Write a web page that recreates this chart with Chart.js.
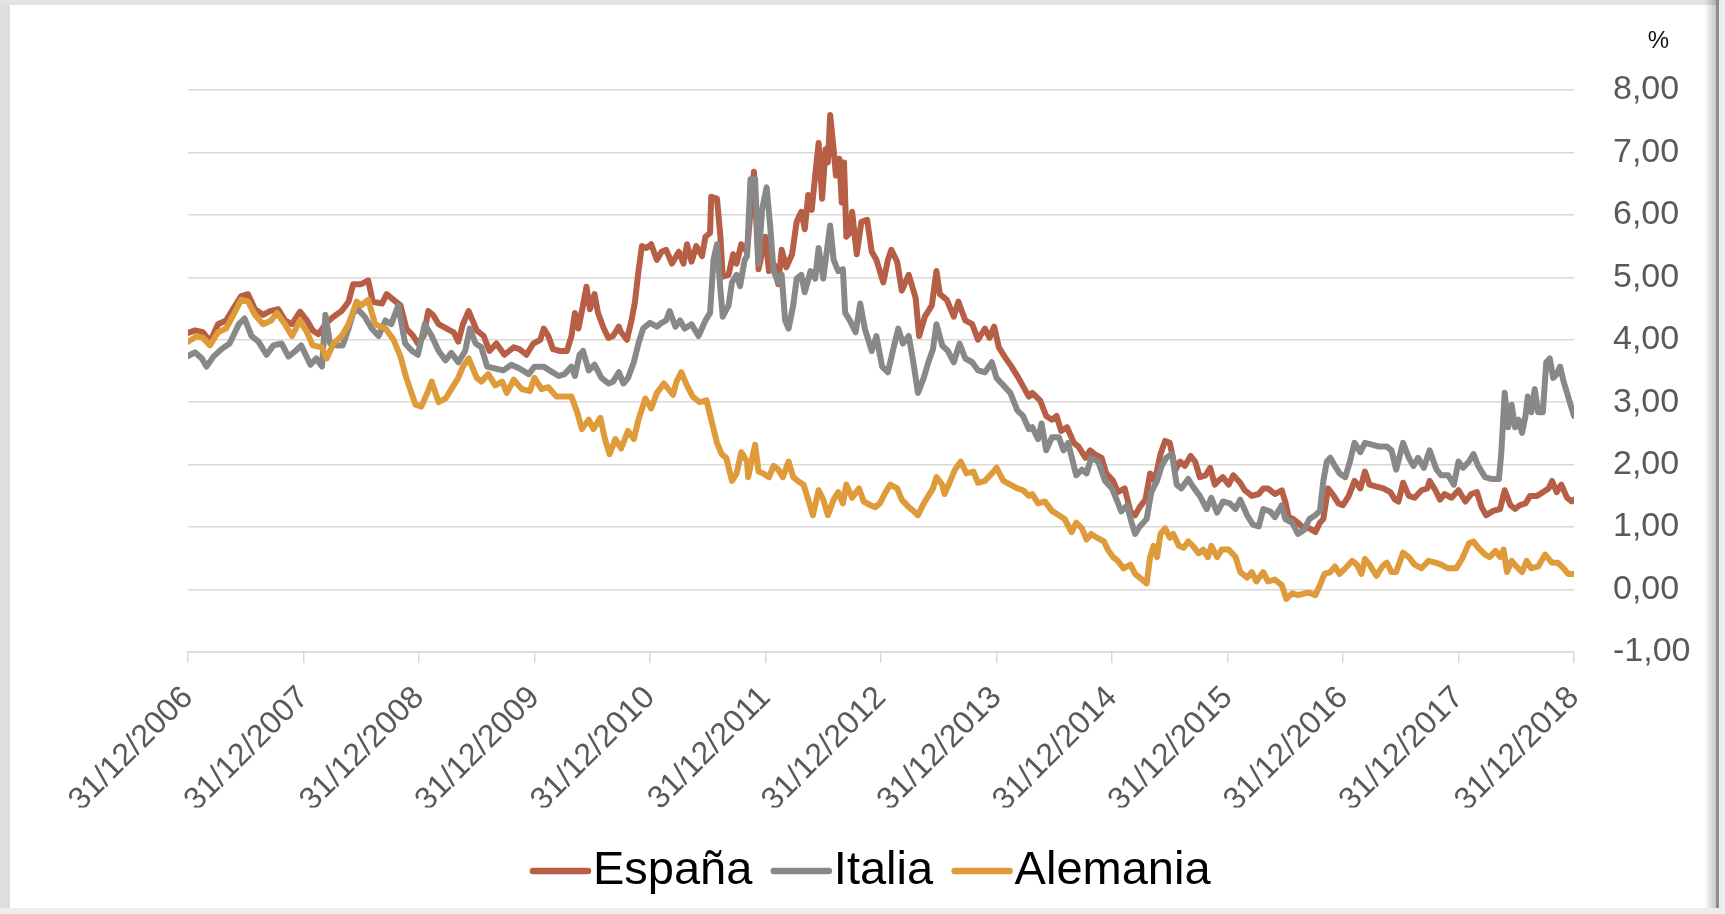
<!DOCTYPE html>
<html>
<head>
<meta charset="utf-8">
<script src="https://cdn.jsdelivr.net/npm/chart.js@4.4.1/dist/chart.umd.min.js"></script>
<style>
html,body{margin:0;padding:0;background:#fff;width:1725px;height:914px;overflow:hidden;}
#wrap{position:absolute;left:0;top:0;width:1725px;height:914px;background:#fff;}
#c{position:absolute;left:0;top:0;}
.f{position:absolute;pointer-events:none;}
</style>
</head>
<body>
<div id="wrap">
<canvas id="c" width="1725" height="914"></canvas>
<div class="f" style="left:0;top:0;width:10px;height:914px;background:#dedede"></div>
<div class="f" style="left:0;top:0;width:1725px;height:5px;background:#e3e3e3"></div>
<div class="f" style="left:1704px;top:0;width:12px;height:914px;background:linear-gradient(to right,rgba(0,0,0,0),rgba(0,0,0,0.22))"></div>
<div class="f" style="left:1716px;top:0;width:3px;height:914px;background:#8c8c8c"></div>
<div class="f" style="left:1719px;top:0;width:6px;height:914px;background:#ececec"></div>
<div class="f" style="left:0;top:908px;width:1725px;height:6px;background:#ededed"></div>
</div>
<script>
// Fecha (año decimal, 2007.00 = 31/12/2006) y rendimiento (%)
const espana = [[2007.00,4.11],[2007.06,4.15],[2007.13,4.12],[2007.19,3.97],[2007.26,4.25],[2007.33,4.31],[2007.41,4.55],[2007.46,4.70],[2007.52,4.73],[2007.58,4.49],[2007.65,4.40],[2007.71,4.46],[2007.78,4.49],[2007.84,4.31],[2007.90,4.25],[2007.97,4.45],[2008.03,4.31],[2008.08,4.15],[2008.13,4.09],[2008.19,4.25],[2008.26,4.37],[2008.33,4.46],[2008.39,4.61],[2008.43,4.89],[2008.50,4.89],[2008.56,4.95],[2008.60,4.61],[2008.68,4.58],[2008.72,4.73],[2008.78,4.64],[2008.84,4.55],[2008.89,4.18],[2008.95,4.06],[2008.99,3.94],[2009.04,4.06],[2009.08,4.46],[2009.12,4.40],[2009.17,4.25],[2009.24,4.18],[2009.30,4.12],[2009.34,3.97],[2009.38,4.25],[2009.43,4.46],
[2009.50,4.15],[2009.56,4.06],[2009.61,3.82],[2009.67,3.94],[2009.74,3.76],[2009.82,3.88],[2009.87,3.85],[2009.93,3.76],[2009.99,3.94],[2010.05,4.00],[2010.08,4.18],[2010.12,4.06],[2010.16,3.85],[2010.22,3.82],[2010.28,3.82],[2010.32,4.06],[2010.35,4.43],[2010.38,4.18],[2010.42,4.55],[2010.45,4.85],[2010.48,4.49],[2010.52,4.73],[2010.55,4.43],[2010.60,4.18],[2010.64,4.03],[2010.68,4.06],[2010.73,4.21],[2010.75,4.12],[2010.80,4.00],[2010.84,4.31],[2010.87,4.61],[2010.90,5.10],[2010.93,5.50],[2010.97,5.47],[2011.01,5.53],[2011.06,5.28],[2011.10,5.41],[2011.14,5.44],[2011.19,5.22],[2011.25,5.41],[2011.29,5.22],[2011.32,5.53],[2011.36,5.25],[2011.40,5.50],[2011.45,5.34],[2011.48,5.65],[2011.52,5.71],[2011.53,6.29],[2011.58,6.26],[2011.61,5.65],[2011.63,5.01],[2011.68,5.04],[2011.72,5.37],[2011.75,5.22],[2011.79,5.53],
[2011.84,5.41],[2011.90,6.69],[2011.94,5.13],[2012.00,5.65],[2012.03,5.10],[2012.08,5.19],[2012.11,4.89],[2012.14,5.44],[2012.18,5.16],[2012.23,5.37],[2012.27,5.89],[2012.31,6.05],[2012.34,5.77],[2012.37,6.32],[2012.40,6.08],[2012.43,6.63],[2012.46,7.15],[2012.49,6.26],[2012.52,7.05],[2012.54,6.84],[2012.56,7.60],[2012.59,7.05],[2012.61,6.63],[2012.64,6.90],[2012.66,6.20],[2012.68,6.84],[2012.70,5.65],[2012.73,5.71],[2012.75,6.05],[2012.79,5.37],[2012.83,5.89],[2012.88,5.92],[2012.92,5.41],[2012.96,5.28],[2013.02,4.92],[2013.06,5.28],[2013.09,5.44],[2013.14,5.25],[2013.18,4.79],[2013.24,5.04],[2013.30,4.67],[2013.33,4.06],[2013.38,4.37],[2013.44,4.55],[2013.48,5.10],[2013.51,4.73],[2013.57,4.64],[2013.63,4.37],[2013.67,4.61],[2013.73,4.31],[2013.79,4.25],[2013.84,4.00],[2013.90,4.18],[2013.94,4.03],[2013.98,4.21],[2014.02,3.88],[2014.07,3.73],[2014.13,3.57],[2014.19,3.39],[2014.28,3.09],
[2014.31,3.15],[2014.38,3.02],[2014.43,2.78],[2014.48,2.72],[2014.52,2.78],[2014.56,2.54],[2014.61,2.60],[2014.67,2.35],[2014.71,2.29],[2014.77,2.11],[2014.81,2.23],[2014.85,2.17],[2014.91,2.11],[2014.95,1.86],[2015.01,1.74],[2015.05,1.56],[2015.11,1.62],[2015.16,1.25],[2015.20,1.19],[2015.24,1.32],[2015.29,1.44],[2015.33,1.86],[2015.37,1.74],[2015.42,2.17],[2015.46,2.38],[2015.50,2.35],[2015.55,1.92],[2015.59,2.05],[2015.63,1.98],[2015.68,2.14],[2015.72,2.05],[2015.76,1.80],[2015.81,1.83],[2015.85,1.95],[2015.89,1.68],[2015.92,1.74],[2015.96,1.80],[2016.01,1.68],[2016.05,1.83],[2016.11,1.71],[2016.15,1.59],[2016.21,1.50],[2016.27,1.53],[2016.31,1.62],[2016.35,1.62],[2016.41,1.53],[2016.47,1.59],[2016.50,1.41],[2016.53,1.16],[2016.57,1.13],[2016.61,1.07],[2016.66,0.98],
[2016.71,0.98],[2016.76,0.92],[2016.80,1.07],[2016.83,1.13],[2016.87,1.62],[2016.92,1.50],[2016.96,1.38],[2017.00,1.35],[2017.05,1.50],[2017.10,1.74],[2017.15,1.62],[2017.19,1.89],[2017.23,1.68],[2017.29,1.65],[2017.35,1.62],[2017.41,1.56],[2017.45,1.44],[2017.48,1.41],[2017.52,1.71],[2017.57,1.50],[2017.62,1.47],[2017.68,1.59],[2017.73,1.62],[2017.75,1.74],[2017.80,1.59],[2017.84,1.44],[2017.88,1.53],[2017.94,1.47],[2018.00,1.59],[2018.06,1.41],[2018.11,1.53],[2018.16,1.56],[2018.20,1.32],[2018.24,1.19],[2018.30,1.26],[2018.36,1.29],[2018.40,1.59],[2018.45,1.35],[2018.49,1.29],[2018.53,1.35],[2018.58,1.38],[2018.62,1.50],[2018.68,1.50],[2018.73,1.56],[2018.78,1.62],[2018.81,1.74],[2018.85,1.56],[2018.89,1.68],[2018.94,1.47],[2018.98,1.41],[2019.00,1.44]];

const italia = [[2007.00,3.74],[2007.06,3.80],[2007.12,3.70],[2007.16,3.57],[2007.22,3.73],[2007.29,3.85],[2007.36,3.94],[2007.44,4.25],[2007.49,4.34],[2007.55,4.06],[2007.61,3.97],[2007.68,3.76],[2007.74,3.91],[2007.81,3.94],[2007.87,3.73],[2007.93,3.82],[2007.98,3.91],[2008.06,3.60],[2008.11,3.70],[2008.16,3.57],[2008.19,4.40],[2008.23,3.94],[2008.29,3.91],[2008.34,3.91],[2008.39,4.18],[2008.43,4.43],[2008.47,4.49],[2008.53,4.37],[2008.59,4.18],[2008.65,4.06],[2008.71,4.31],[2008.76,4.25],[2008.82,4.55],[2008.88,3.94],[2008.94,3.82],[2008.99,3.76],[2009.05,4.25],[2009.11,4.06],[2009.17,3.82],[2009.23,3.67],[2009.28,3.79],[2009.34,3.64],[2009.40,3.82],
[2009.44,4.18],[2009.49,3.94],[2009.54,3.88],[2009.59,3.57],[2009.66,3.54],[2009.73,3.51],[2009.80,3.60],[2009.87,3.54],[2009.95,3.45],[2010.00,3.57],[2010.08,3.57],[2010.13,3.51],[2010.21,3.42],[2010.26,3.45],[2010.32,3.57],[2010.35,3.42],[2010.39,3.76],[2010.42,3.82],[2010.47,3.51],[2010.52,3.60],[2010.58,3.39],[2010.64,3.30],[2010.68,3.33],[2010.73,3.48],[2010.77,3.30],[2010.81,3.39],[2010.86,3.64],[2010.90,3.94],[2010.94,4.18],[2011.00,4.27],[2011.06,4.21],[2011.10,4.27],[2011.14,4.31],[2011.17,4.46],[2011.22,4.21],[2011.26,4.31],[2011.30,4.18],[2011.36,4.25],[2011.42,4.06],[2011.48,4.31],[2011.52,4.43],[2011.55,5.28],[2011.58,5.53],[2011.61,4.79],[2011.63,4.37],[2011.68,4.55],[2011.71,4.92],[2011.75,5.04],[2011.78,4.86],[2011.82,5.28],
[2011.84,5.34],[2011.87,6.57],[2011.91,6.57],[2011.94,5.22],[2011.97,6.08],[2012.01,6.44],[2012.04,5.83],[2012.07,5.10],[2012.11,4.92],[2012.14,5.04],[2012.17,4.31],[2012.20,4.18],[2012.24,4.55],[2012.27,4.98],[2012.31,5.04],[2012.34,4.76],[2012.39,5.10],[2012.43,4.98],[2012.46,5.47],[2012.50,4.98],[2012.53,5.41],[2012.56,5.83],[2012.59,5.28],[2012.63,5.10],[2012.67,5.13],[2012.69,4.43],[2012.73,4.31],[2012.78,4.12],[2012.82,4.58],[2012.86,4.18],[2012.92,3.82],[2012.96,4.06],[2013.01,3.57],[2013.06,3.48],[2013.11,3.88],[2013.15,4.18],[2013.19,3.94],[2013.24,4.06],[2013.28,3.64],[2013.32,3.15],[2013.37,3.39],[2013.41,3.64],[2013.45,3.85],[2013.48,4.25],[2013.53,3.91],[2013.58,3.82],[2013.63,3.64],[2013.68,3.94],[2013.73,3.70],[2013.79,3.64],[2013.84,3.51],[2013.90,3.48],[2013.96,3.64],[2014.00,3.39],[2014.06,3.27],[2014.12,3.15],[2014.18,2.87],[2014.23,2.78],[2014.28,2.57],
[2014.31,2.60],[2014.36,2.41],[2014.39,2.66],[2014.43,2.23],[2014.48,2.44],[2014.54,2.44],[2014.58,2.23],[2014.62,2.35],[2014.67,1.98],[2014.69,1.83],[2014.74,1.92],[2014.78,1.86],[2014.82,2.11],[2014.88,2.05],[2014.94,1.74],[2015.00,1.62],[2015.04,1.44],[2015.08,1.25],[2015.13,1.35],[2015.17,1.07],[2015.20,0.89],[2015.24,1.01],[2015.30,1.13],[2015.34,1.56],[2015.39,1.74],[2015.43,1.98],[2015.47,2.11],[2015.52,2.17],[2015.56,1.68],[2015.60,1.62],[2015.66,1.77],[2015.70,1.65],[2015.76,1.50],[2015.82,1.29],[2015.86,1.47],[2015.91,1.23],[2015.96,1.41],[2016.02,1.38],[2016.07,1.29],[2016.11,1.44],[2016.17,1.19],[2016.22,1.04],[2016.27,1.01],[2016.31,1.29],[2016.37,1.25],[2016.41,1.16],[2016.47,1.35],[2016.50,1.13],[2016.56,1.07],[2016.61,0.89],[2016.66,0.95],
[2016.71,1.13],[2016.76,1.19],[2016.80,1.26],[2016.83,1.74],[2016.86,2.05],[2016.89,2.11],[2016.93,1.98],[2016.97,1.86],[2017.02,1.80],[2017.06,2.05],[2017.10,2.35],[2017.15,2.20],[2017.19,2.35],[2017.25,2.32],[2017.31,2.29],[2017.38,2.29],[2017.42,2.23],[2017.46,1.92],[2017.52,2.35],[2017.57,2.11],[2017.61,1.98],[2017.65,2.11],[2017.70,1.95],[2017.75,2.23],[2017.81,1.92],[2017.85,1.83],[2017.91,1.83],[2017.96,1.68],[2018.00,2.05],[2018.04,1.95],[2018.09,2.05],[2018.13,2.17],[2018.17,1.98],[2018.23,1.80],[2018.29,1.77],[2018.35,1.77],[2018.37,2.17],[2018.40,3.15],[2018.43,2.60],[2018.46,2.96],[2018.49,2.60],[2018.52,2.72],[2018.55,2.51],[2018.58,2.78],[2018.60,3.09],[2018.63,2.84],[2018.66,3.21],[2018.69,2.84],[2018.73,2.84],[2018.76,3.64],[2018.79,3.70],[2018.82,3.39],[2018.85,3.45],[2018.88,3.57],[2018.91,3.33],[2018.94,3.15],[2018.97,2.96],[2019.00,2.78]];

const alemania = [[2007.00,3.97],[2007.08,4.06],[2007.13,4.03],[2007.19,3.91],[2007.26,4.12],[2007.33,4.18],[2007.41,4.46],[2007.46,4.64],[2007.52,4.61],[2007.58,4.40],[2007.65,4.25],[2007.72,4.31],[2007.77,4.43],[2007.84,4.25],[2007.90,4.06],[2007.97,4.31],[2008.03,4.12],[2008.08,3.91],[2008.16,3.88],[2008.20,3.70],[2008.26,3.94],[2008.33,4.06],[2008.39,4.25],[2008.46,4.61],[2008.50,4.55],[2008.56,4.64],[2008.62,4.25],[2008.71,4.18],[2008.78,4.00],[2008.84,3.73],[2008.89,3.39],[2008.97,2.96],[2009.02,2.93],[2009.07,3.14],[2009.11,3.33],[2009.17,3.00],[2009.23,3.06],[2009.28,3.21],[2009.34,3.39],[2009.38,3.57],[2009.43,3.70],
[2009.50,3.39],[2009.54,3.33],[2009.60,3.45],[2009.66,3.27],[2009.72,3.33],[2009.76,3.15],[2009.82,3.36],[2009.89,3.21],[2009.96,3.18],[2010.00,3.39],[2010.06,3.21],[2010.12,3.24],[2010.19,3.09],[2010.26,3.09],[2010.32,3.09],[2010.37,2.84],[2010.41,2.57],[2010.47,2.72],[2010.51,2.57],[2010.57,2.75],[2010.61,2.41],[2010.65,2.17],[2010.70,2.41],[2010.75,2.26],[2010.81,2.54],[2010.86,2.41],[2010.90,2.72],[2010.96,3.06],[2011.01,2.90],[2011.06,3.15],[2011.12,3.30],[2011.16,3.21],[2011.20,3.12],[2011.23,3.33],[2011.27,3.48],[2011.32,3.27],[2011.37,3.09],[2011.43,3.00],[2011.49,3.03],[2011.53,2.72],[2011.58,2.35],[2011.62,2.17],[2011.66,2.11],[2011.71,1.74],[2011.75,1.86],[2011.79,2.20],[2011.84,2.05],
[2011.85,1.80],[2011.91,2.32],[2011.94,1.89],[2011.98,1.86],[2012.03,1.80],[2012.07,1.98],[2012.11,1.92],[2012.15,1.80],[2012.20,2.05],[2012.24,1.80],[2012.28,1.74],[2012.33,1.68],[2012.37,1.44],[2012.41,1.19],[2012.46,1.59],[2012.50,1.44],[2012.54,1.19],[2012.59,1.44],[2012.63,1.56],[2012.67,1.38],[2012.70,1.68],[2012.75,1.47],[2012.81,1.62],[2012.85,1.41],[2012.91,1.35],[2012.95,1.32],[2012.99,1.38],[2013.04,1.56],[2013.08,1.68],[2013.14,1.62],[2013.18,1.44],[2013.24,1.32],[2013.28,1.26],[2013.32,1.19],[2013.37,1.38],[2013.41,1.50],[2013.45,1.62],[2013.48,1.80],[2013.53,1.68],[2013.55,1.53],[2013.60,1.74],[2013.64,1.92],[2013.69,2.05],[2013.74,1.86],[2013.80,1.89],[2013.84,1.71],[2013.90,1.74],[2013.96,1.86],[2014.00,1.95],[2014.06,1.74],[2014.12,1.68],[2014.18,1.62],[2014.23,1.59],[2014.28,1.50],
[2014.31,1.53],[2014.36,1.38],[2014.42,1.41],[2014.48,1.26],[2014.54,1.19],[2014.59,1.13],[2014.65,0.92],[2014.69,1.07],[2014.74,0.98],[2014.78,0.80],[2014.82,0.89],[2014.87,0.83],[2014.93,0.77],[2014.97,0.62],[2015.01,0.52],[2015.05,0.46],[2015.10,0.34],[2015.16,0.40],[2015.20,0.25],[2015.24,0.19],[2015.30,0.10],[2015.33,0.52],[2015.36,0.70],[2015.39,0.52],[2015.42,0.89],[2015.46,0.98],[2015.50,0.83],[2015.53,0.89],[2015.58,0.70],[2015.62,0.67],[2015.66,0.77],[2015.70,0.70],[2015.75,0.58],[2015.79,0.64],[2015.83,0.52],[2015.86,0.70],[2015.91,0.52],[2015.95,0.64],[2016.01,0.64],[2016.07,0.52],[2016.11,0.28],[2016.17,0.19],[2016.21,0.28],[2016.25,0.13],[2016.31,0.28],[2016.35,0.13],[2016.41,0.16],[2016.47,0.07],[2016.51,-0.15],[2016.56,-0.06],[2016.61,-0.09],[2016.67,-0.06],
[2016.71,-0.05],[2016.76,-0.09],[2016.80,0.07],[2016.84,0.25],[2016.89,0.28],[2016.93,0.37],[2016.97,0.25],[2017.02,0.34],[2017.08,0.46],[2017.12,0.40],[2017.16,0.25],[2017.19,0.49],[2017.23,0.40],[2017.29,0.22],[2017.34,0.37],[2017.38,0.43],[2017.42,0.28],[2017.46,0.28],[2017.52,0.59],[2017.57,0.52],[2017.62,0.40],[2017.68,0.34],[2017.74,0.46],[2017.80,0.43],[2017.85,0.40],[2017.91,0.34],[2017.98,0.34],[2018.03,0.49],[2018.09,0.74],[2018.13,0.77],[2018.17,0.67],[2018.23,0.56],[2018.27,0.52],[2018.32,0.62],[2018.36,0.52],[2018.39,0.64],[2018.42,0.28],[2018.46,0.46],[2018.50,0.37],[2018.55,0.28],[2018.59,0.46],[2018.63,0.34],[2018.69,0.37],[2018.75,0.56],[2018.81,0.43],[2018.86,0.43],[2018.91,0.34],[2018.95,0.25],[2019.00,0.25]];

const seriesNames = ['España', 'Italia', 'Alemania'];
const seriesColors = ['#B65F46', '#888888', '#DF9A3A'];
const xTickLabels = ['31/12/2006','31/12/2007','31/12/2008','31/12/2009','31/12/2010','31/12/2011','31/12/2012','31/12/2013','31/12/2014','31/12/2015','31/12/2016','31/12/2017','31/12/2018'];
const yUnit = '%';

const FONT = "'Liberation Sans', Arial, Helvetica, sans-serif";
const TEXT = '#595959';
const GRID = '#d9d9d9';

const toPts = arr => arr.map(p => ({x: p[0], y: p[1]}));
const seriesData = [espana, italia, alemania];

// place the unit label ("%") above the value labels of the right axis
const unitTitlePos = {
  id: 'unitTitlePos',
  afterLayout(chart) {
    const t = chart.titleBlock;
    if (t) { t.right = chart.chartArea.right + 95; }
  }
};

new Chart(document.getElementById('c'), {
  type: 'line',
  data: {
    datasets: seriesData.map((d, i) => ({
      label: seriesNames[i],
      data: toPts(d),
      borderColor: seriesColors[i],
      backgroundColor: seriesColors[i],
      borderWidth: 6,
      pointRadius: 0,
      tension: 0,
      fill: false,
      borderJoinStyle: 'round',
      borderCapStyle: 'round',
      order: 2 - i
    }))
  },
  plugins: [unitTitlePos],
  options: {
    responsive: false,
    animation: false,
    layout: { padding: { left: 188, right: 20, top: 10, bottom: 9.5 } },
    plugins: {
      tooltip: { enabled: false },
      title: {
        display: true, text: yUnit, align: 'end', color: '#111',
        font: { family: FONT, size: 24, weight: 'normal' },
        padding: { top: 16.6, bottom: 34.6 }
      },
      legend: {
        position: 'bottom',
        fullSize: false,
        labels: {
          usePointStyle: true,
          boxWidth: 18,
          boxHeight: 38.9,
          padding: 40,
          color: TEXT,
          font: { family: FONT, size: 47 },
          generateLabels: chart => chart.data.datasets.map((ds, i) => ({
            text: ds.label,
            fillStyle: ds.borderColor,
            strokeStyle: ds.borderColor,
            lineWidth: 6.5,
            lineCap: 'round',
            pointStyle: 'line',
            hidden: false,
            datasetIndex: i
          }))
        }
      }
    },
    scales: {
      x: {
        type: 'linear', min: 2007, max: 2019,
        grid: { display: true, drawOnChartArea: false, drawTicks: true, tickLength: 11, color: GRID, lineWidth: 1.5 },
        border: { display: true, color: GRID, width: 1.5 },
        ticks: {
          stepSize: 1, autoSkip: false, maxRotation: 45, minRotation: 45, padding: 16,
          color: TEXT, font: { family: FONT, size: 32 },
          callback: (v, idx) => xTickLabels[idx]
        },
        afterFit: s => { s.height = 155.5; }
      },
      y: {
        position: 'right', min: -1, max: 8,
        grid: { color: GRID, lineWidth: 1.5, drawTicks: false },
        border: { display: false },
        ticks: {
          stepSize: 1, padding: 39, color: TEXT, font: { family: FONT, size: 34 },
          callback: v => v.toFixed(2).replace('.', ',')
        },
        afterFit: s => { s.width = 131; }
      }
    }
  }
});
</script>
</body>
</html>
